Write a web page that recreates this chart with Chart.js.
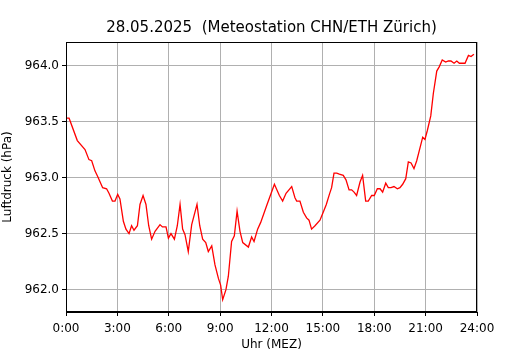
<!DOCTYPE html>
<html>
<head>
<meta charset="utf-8">
<script src="https://cdn.jsdelivr.net/npm/chart.js@4"></script>
<style>
  html,body{margin:0;padding:0;background:#fff;}
  #wrap{width:530px;height:350px;}
</style>
</head>
<body>
<div id="wrap"><canvas id="c" width="530" height="350"></canvas></div>
<script>
'use strict';

/* Luftdruck 28.05.2025, Meteostation CHN/ETH Zürich */
var TITLE='28.05.2025  (Meteostation CHN/ETH Zürich)';

// Zeit in Stunden (MEZ)
var hours=[0.0,0.18,0.66,1.11,1.34,1.5,1.69,1.85,2.14,2.37,2.51,2.71,2.86,3.02,3.15,3.35,3.5,3.68,3.83,3.97,
  4.17,4.32,4.5,4.67,4.83,5.0,5.2,5.49,5.63,5.84,5.98,6.13,6.33,6.5,6.66,6.81,6.95,7.14,7.34,7.65,
  7.81,7.98,8.16,8.31,8.51,8.7,8.9,9.03,9.15,9.34,9.48,9.67,9.83,9.99,10.16,10.32,10.65,10.84,10.98,11.19,
  11.37,11.72,12.17,12.46,12.65,12.85,13.18,13.37,13.47,13.66,13.86,14.05,14.19,14.34,14.54,14.83,15.02,15.2,15.38,15.51,
  15.65,15.81,15.96,16.19,16.35,16.53,16.68,16.82,16.97,17.17,17.32,17.5,17.65,17.85,18.0,18.18,18.34,18.49,18.67,18.82,
  18.98,19.15,19.35,19.5,19.66,19.84,19.99,20.15,20.32,20.48,20.63,20.83,20.96,21.1,21.3,21.45,21.65,21.8,21.97,22.17,
  22.33,22.48,22.66,22.82,22.97,23.3,23.5,23.65,23.82];

// Luftdruck in hPa
var druck=[963.53,963.53,963.33,963.25,963.16,963.15,963.06,963.01,962.91,962.90,962.86,962.79,962.79,962.85,962.81,962.61,962.54,962.50,962.57,962.53,
  962.57,962.76,962.84,962.76,962.57,962.45,962.52,962.58,962.56,962.56,962.46,962.50,962.45,962.57,962.76,962.54,962.49,962.34,962.58,962.76,
  962.57,962.45,962.42,962.34,962.39,962.22,962.10,962.04,961.91,962.00,962.12,962.43,962.48,962.70,962.52,962.42,962.38,962.47,962.43,962.54,
  962.60,962.75,962.94,962.84,962.79,962.86,962.92,962.82,962.79,962.79,962.69,962.64,962.62,962.54,962.57,962.62,962.69,962.76,962.85,962.91,
  963.04,963.04,963.03,963.02,962.98,962.89,962.89,962.87,962.84,962.96,963.02,962.79,962.79,962.84,962.84,962.90,962.90,962.87,962.95,962.91,
  962.91,962.92,962.90,962.91,962.94,962.99,963.14,963.13,963.08,963.15,963.24,963.36,963.34,963.42,963.55,963.75,963.95,963.99,964.05,964.03,
  964.04,964.04,964.02,964.04,964.02,964.02,964.09,964.08,964.10];

var xTicks=[0,3,6,9,12,15,18,21,24];
var yTicks=[962.0,962.5,963.0,963.5,964.0];

// y-Bereich wie matplotlib: 5% Rand
var pMin=Math.min.apply(null,druck),pMax=Math.max.apply(null,druck);
var marg=(pMax-pMin)*0.05;

var pts=hours.map(function(h,i){return{x:h,y:druck[i]};});

Chart.defaults.font.family="'DejaVu Sans', sans-serif";
Chart.defaults.color='#000';

// Rahmen rundum + Titel über der Plotfläche zentriert
var frame={
  id:'frame',
  afterDraw:function(ch){
    var a=ch.chartArea,ctx=ch.ctx;
    ctx.save();ctx.strokeStyle='#000';ctx.lineWidth=1;
    ctx.strokeRect(Math.round(a.left)+0.5,Math.round(a.top)+0.5,Math.round(a.right-a.left)-1,Math.round(a.bottom-a.top)-1);
    ctx.fillStyle='#000';ctx.font="15px 'DejaVu Sans', sans-serif";
    ctx.textAlign='center';ctx.textBaseline='middle';
    ctx.fillText(TITLE,(a.left+a.right)/2,28);
    ctx.restore();
  }
};

new Chart(document.getElementById('c'),{
  type:'line',
  data:{datasets:[{data:pts,borderColor:'#ff0000',borderWidth:1.3,pointRadius:0,tension:0,fill:false}]},
  options:{
    responsive:false,animation:false,
    layout:{padding:{left:0,right:53,top:42,bottom:0}},
    plugins:{legend:{display:false},tooltip:{enabled:false},title:{display:false}},
    scales:{
      x:{type:'linear',min:0,max:24,
        afterBuildTicks:function(s){s.ticks=xTicks.map(function(v){return{value:v};});},
        afterFit:function(s){s.height=38;},
        ticks:{callback:function(v){return v+':00';},font:{size:12},padding:6,maxRotation:0,autoSkip:false},
        grid:{color:'#b0b0b0',lineWidth:1,tickColor:'#000',tickLength:4},
        border:{color:'#000',width:1},
        title:{display:true,text:'Uhr (MEZ)',font:{size:12,lineHeight:0.8},padding:{top:0,bottom:0}}
      },
      y:{min:pMin-marg,max:pMax+marg,
        afterBuildTicks:function(s){s.ticks=yTicks.map(function(v){return{value:v};});},
        afterFit:function(s){s.width=66;},
        ticks:{callback:function(v){return v.toFixed(1);},font:{size:12},padding:3,autoSkip:false},
        grid:{color:'#b0b0b0',lineWidth:1,tickColor:'#000',tickLength:4},
        border:{color:'#000',width:1},
        title:{display:true,text:'Luftdruck (hPa)',font:{size:12,lineHeight:1},padding:{top:2,bottom:0}}
      }
    }
  },
  plugins:[frame]
});
</script>
</body>
</html>
